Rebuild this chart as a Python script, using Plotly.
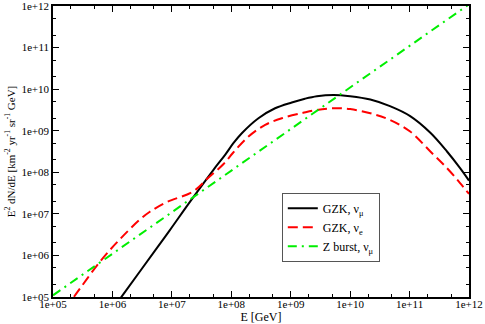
import plotly.graph_objects as go

# log10 of energy / flux
gzk_mu_logE = [6.0, 6.17, 6.75, 6.97, 7.31, 7.70, 7.896, 8.035, 8.177, 8.457, 8.737, 9.018, 9.24, 9.44, 9.72,
               10.0, 10.34, 10.67, 11.01, 11.35, 11.63, 11.85, 12.0]
gzk_mu_logF = [4.7, 5.04, 6.18, 6.615, 7.30, 8.06, 8.42, 8.70, 8.94, 9.30, 9.54, 9.68, 9.77, 9.83, 9.86,
               9.83, 9.75, 9.59, 9.35, 8.95, 8.50, 8.10, 7.80]

gzk_e_logE = [5.2, 5.35, 5.79, 6.1, 6.46, 6.63, 6.91, 7.36, 7.6, 7.87, 8.03, 8.29, 8.57, 8.85,
              9.21, 9.44, 9.72, 10.0, 10.34, 10.67, 11.01, 11.35, 11.63, 11.85, 12.0]
gzk_e_logF = [4.72, 5.0, 5.85, 6.35, 6.86, 7.05, 7.28, 7.54, 7.85, 8.2, 8.47, 8.86, 9.14, 9.30,
              9.43, 9.50, 9.54, 9.52, 9.42, 9.26, 8.98, 8.50, 8.10, 7.74, 7.48]

zburst_logE = [5.0, 7.0, 9.0, 11.0, 12.0]
zburst_logF = [5.04, 7.04, 9.04, 11.04, 12.04]

tick_vals = [1e5, 1e6, 1e7, 1e8, 1e9, 1e10, 1e11, 1e12]
tick_text = ["1e+05", "1e+06", "1e+07", "1e+08", "1e+09", "1e+10", "1e+11", "1e+12"]

SERIF = "Liberation Serif"

fig = go.Figure()
fig.add_trace(go.Scatter(
    x=[10 ** v for v in gzk_mu_logE], y=[10 ** v for v in gzk_mu_logF],
    mode="lines", line=dict(color="black", width=2, shape="spline"),
    name="GZK, ν<sub>μ</sub>"))
fig.add_trace(go.Scatter(
    x=[10 ** v for v in gzk_e_logE], y=[10 ** v for v in gzk_e_logF],
    mode="lines", line=dict(color="#ff0000", width=2, dash="10px,5px", shape="spline"),
    name="GZK, ν<sub>e</sub>"))
fig.add_trace(go.Scatter(
    x=[10 ** v for v in zburst_logE], y=[10 ** v for v in zburst_logF],
    mode="lines", line=dict(color="#00ee00", width=2, dash="9px,5px,2px,5px"),
    name="Z burst, ν<sub>μ</sub>"))

axis_common = dict(
    type="log", showgrid=False, zeroline=False, automargin=False,
    showline=True, linecolor="black", linewidth=1.5, mirror="ticks",
    ticks="inside", ticklen=6, tickwidth=1, tickcolor="black",
    tickvals=tick_vals, ticktext=tick_text, ticklabeloverflow="allow",
    tickfont=dict(family=SERIF, size=11, color="black"),
    minor=dict(ticks="inside", ticklen=3, tickcolor="black", showgrid=False),
)

fig.update_xaxes(range=[5, 12], ticklabelstandoff=-4,
                 title=dict(text="E [GeV]", font=dict(family=SERIF, size=12), standoff=0),
                 **axis_common)
fig.update_yaxes(range=[5, 12],
                 title=dict(text="E<sup>2</sup> dN/dE [km<sup>-2</sup> yr<sup>-1</sup> sr<sup>-1</sup> GeV]",
                            font=dict(family=SERIF, size=11), standoff=4),
                 **axis_common)

fig.update_layout(
    width=485, height=324,
    margin=dict(l=53, r=16, t=6, b=27, autoexpand=False),
    paper_bgcolor="white", plot_bgcolor="white",
    font=dict(family=SERIF, color="black"),
    legend=dict(x=0.55, y=0.358, xanchor="left", yanchor="top",
                bordercolor="#555555", borderwidth=1, bgcolor="white",
                font=dict(family=SERIF, size=12), tracegroupgap=0),
    showlegend=True,
)

# page has a default 8px body margin; drop it so the figure sits at the window corner
fig.write_html("out.html", config={"displayModeBar": False},
               post_script="document.body.style.margin='0px';")
